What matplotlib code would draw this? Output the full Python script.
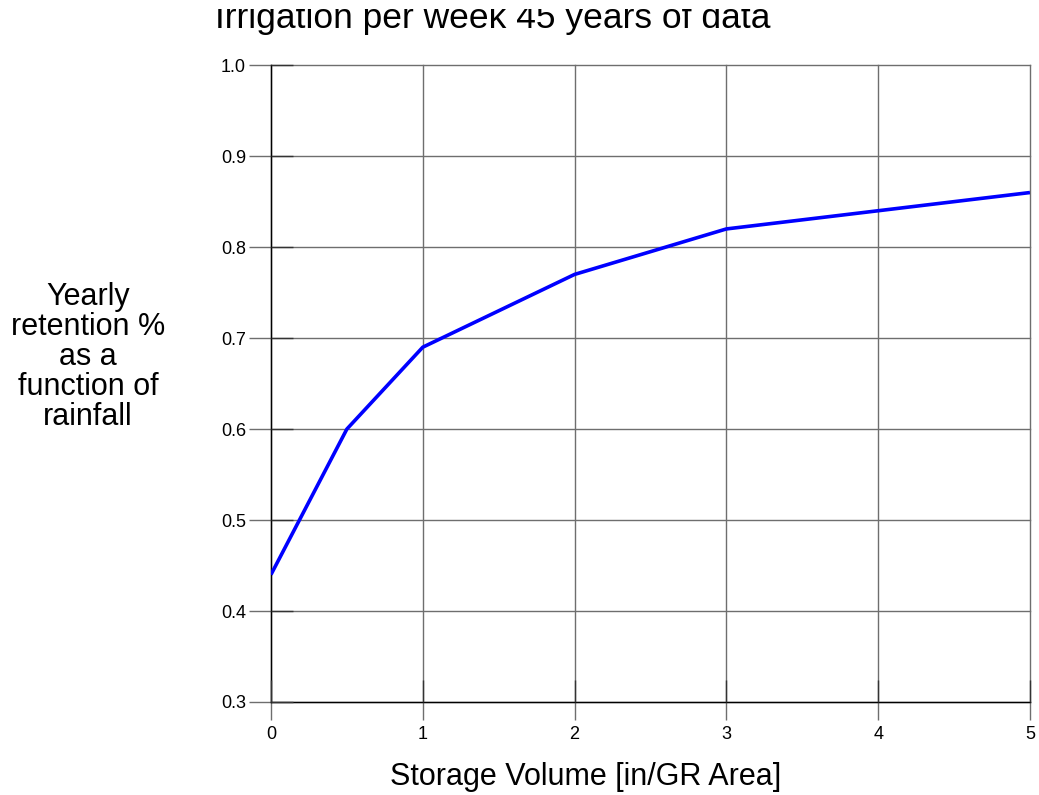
import matplotlib
matplotlib.use("Agg")
import matplotlib.pyplot as plt
from matplotlib.patches import Rectangle

x_vals = [0, 0.5, 1, 2, 3, 4, 5]
retention = [0.44, 0.60, 0.69, 0.77, 0.82, 0.84, 0.86]
x_ticks = [0, 1, 2, 3, 4, 5]
y_ticks = [0.3, 0.4, 0.5, 0.6, 0.7, 0.8, 0.9, 1.0]

plt.rcParams['font.family'] = ['Liberation Sans', 'DejaVu Sans']

fig = plt.figure(figsize=(10.39, 7.95), dpi=100)
rect = [0.2608, 0.117, 0.7305, 0.801]
ax = fig.add_axes(rect)
ax.plot(x_vals, retention, color='#0000ff', lw=2.6, solid_capstyle='butt', zorder=3)
ax.set_xlim(0, 5)
ax.set_ylim(0.3, 1.0)
ax.set_xticks(x_ticks)
ax.set_yticks(y_ticks)
ax.set_xticklabels([str(t) for t in x_ticks])
ax.set_yticklabels([f"{t:.1f}" for t in y_ticks])
ax.grid(True, color='#6e6e6e', lw=1.0)
for gl in ax.get_xgridlines() + ax.get_ygridlines():
    gl.set_clip_on(False)
ax.set_axisbelow(True)
for s in ['top', 'right']:
    ax.spines[s].set_visible(False)
for s in ['left', 'bottom']:
    ax.spines[s].set_color('black')
    ax.spines[s].set_linewidth(1.0)
ax.tick_params(axis='y', direction='out', length=16, color='#6e6e6e', width=1.0,
               labelsize=13, pad=2)
ax.tick_params(axis='x', direction='out', length=13, color='#6e6e6e', width=1.0,
               labelsize=13, pad=4)

# short dark inward ticks on an overlay axes
ax2 = fig.add_axes(rect, frameon=False)
ax2.set_xlim(0, 5)
ax2.set_ylim(0.3, 1.0)
ax2.set_xticks(x_ticks)
ax2.set_yticks(y_ticks)
ax2.tick_params(axis='both', direction='in', length=16, color='#333333', width=1.0,
                labelleft=False, labelbottom=False)
ax2.patch.set_visible(False)

fig.text(586/1039, 1 - 785/795, 'Storage Volume [in/GR Area]',
         ha='center', va='baseline', fontsize=22)
fig.text(88/1039, 1 - 282/795, 'Yearly\nretention %\nas a\nfunction of\nrainfall',
         ha='center', va='top', fontsize=22, linespacing=1.0)
t = fig.text(493/1039, 1 - 28/795, 'Irrigation per week 45 years of data',
             ha='center', va='baseline', fontsize=25.5, clip_on=True)
t.set_clip_path(Rectangle((0, 0), 1, 1 - 9/795, transform=fig.transFigure))

fig.savefig('out.png', dpi=100)
